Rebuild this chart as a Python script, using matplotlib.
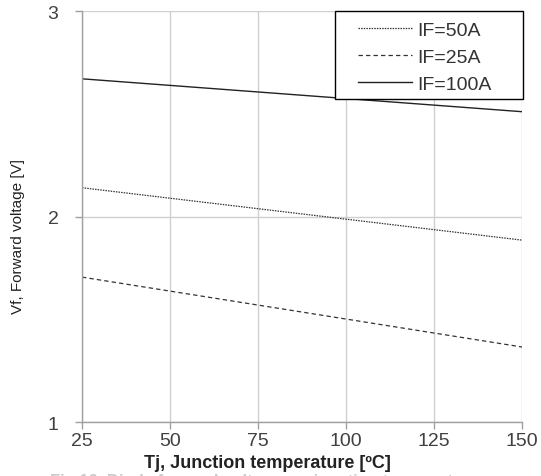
import matplotlib
matplotlib.use("Agg")
import matplotlib.pyplot as plt
from matplotlib.patches import Rectangle

plt.rcParams['font.family'] = ['Liberation Sans', 'DejaVu Sans']

tj = [25, 150]
vf_if50 = [2.14, 1.885]
vf_if25 = [1.705, 1.365]
vf_if100 = [2.67, 2.51]
xticks = [25, 50, 75, 100, 125, 150]
yticks = [1, 2, 3]

fig = plt.figure(figsize=(5.41, 4.77), dpi=100)
ax = fig.add_axes([82/541, 1 - 423/477, 440/541, 411/477])

ax.plot(tj, vf_if50, color='#333333', lw=0.9, ls=(0, (1.2, 0.9)), label='IF=50A')
ax.plot(tj, vf_if25, color='#333333', lw=0.9, ls=(0, (3.5, 2.5)), label='IF=25A')
ax.plot(tj, vf_if100, color='#222222', lw=1.0, ls='-', label='IF=100A')

ax.set_xlim(25, 150)
ax.set_ylim(1, 3)
ax.set_xticks(xticks)
ax.set_yticks(yticks)
ax.grid(True, color='#d0d0d0', lw=1.0)
ax.set_axisbelow(True)
for s in ['top', 'right']:
    ax.spines[s].set_visible(False)
for s in ['left', 'bottom']:
    ax.spines[s].set_color('#a0a0a0')
    ax.spines[s].set_linewidth(1.0)
ax.tick_params(axis='both', colors='#a0a0a0', labelcolor='#404040', labelsize=14, length=5, width=1.0)
ax.tick_params(axis='y', pad=12)
ax.tick_params(axis='x', pad=2)

fig.text(267/541, 1 - 464/477, 'Tj, Junction temperature [ºC]', fontsize=13, fontweight='bold',
         color='#222222', ha='center', va='center')
fig.text(18/541, 1 - 237/477, 'Vf, Forward voltage [V]', fontsize=11, rotation=90,
         color='#222222', ha='center', va='center')

# legend frame
frame = Rectangle((335/541, 1 - 100/477), 188/541, 88/477, transform=fig.transFigure,
                  facecolor='white', edgecolor='black', lw=1.0, zorder=4, clip_on=False)
ax.add_patch(frame)
leg = ax.legend(loc='upper left', bbox_to_anchor=(358/541, 1 - 22/477), bbox_transform=fig.transFigure,
                fontsize=14, frameon=False, handlelength=2.8, handletextpad=0.25,
                borderpad=0, labelspacing=0.5, borderaxespad=0)
leg.set_zorder(5)
for t in leg.get_texts():
    t.set_color('#333333')

fig.text(50/541, 1 - 474/477, 'Fig.10  Diode forward voltage vs. junction temperature', fontsize=12,
         color='#c8c8c8', fontweight='bold', va='top')

fig.savefig('out.png', dpi=100)
